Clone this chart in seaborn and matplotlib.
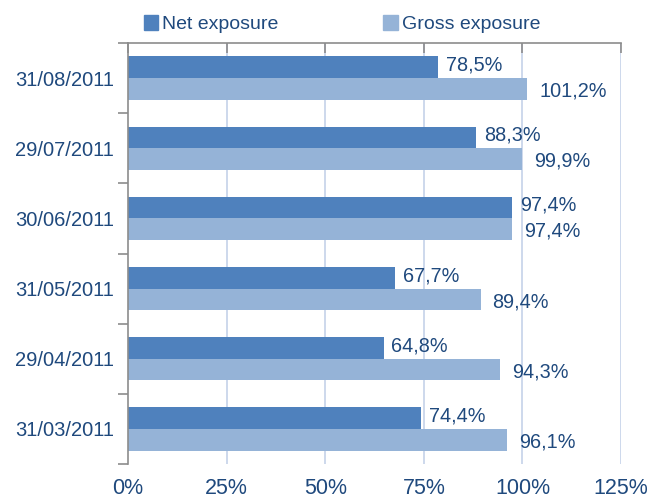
import pandas as pd
import matplotlib.pyplot as plt
import seaborn as sns
from matplotlib.patches import Patch
from matplotlib.ticker import FixedLocator, PercentFormatter

dates = ["31/08/2011", "29/07/2011", "30/06/2011", "31/05/2011", "29/04/2011", "31/03/2011"]
net_exposure = [78.5, 88.3, 97.4, 67.7, 64.8, 74.4]
gross_exposure = [101.2, 99.9, 97.4, 89.4, 94.3, 96.1]
series_names = ["Net exposure", "Gross exposure"]
x_ticks = [0, 25, 50, 75, 100, 125]

NET_COLOR = "#4F81BD"
GROSS_COLOR = "#95B3D7"
TEXT_COLOR = "#1F497D"
AXIS_GRAY = "#8C8C8C"
GRID_COLOR = "#C9D6EA"

df = pd.DataFrame({
    "date": dates * 2,
    "value": net_exposure + gross_exposure,
    "series": [series_names[0]] * len(dates) + [series_names[1]] * len(dates),
})

sns.set_theme(style="white")
plt.rcParams['font.family'] = ['Liberation Sans', 'DejaVu Sans']

fig = plt.figure(figsize=(6.51, 5.01), dpi=100)
ax = fig.add_axes([0.1966, 0.074, 0.7574, 0.84])

sns.barplot(data=df, x="value", y="date", hue="series", order=dates,
            hue_order=series_names, palette=[NET_COLOR, GROSS_COLOR],
            orient="h", width=0.62, ax=ax, legend=False, saturation=1,
            linewidth=0)

ax.set_xlim(0, 125)
ax.set_ylim(len(dates) - 0.5, -0.5)
ax.xaxis.set_major_locator(FixedLocator(x_ticks))
ax.xaxis.set_major_formatter(PercentFormatter(decimals=0))
ax.set_xlabel("")
ax.set_ylabel("")

# grid lines
for v in x_ticks[1:]:
    ax.axvline(v, color=GRID_COLOR, linewidth=1.3, zorder=0)

# spines
for side in ["right", "bottom"]:
    ax.spines[side].set_visible(False)
for side in ["top", "left"]:
    ax.spines[side].set_color(AXIS_GRAY)
    ax.spines[side].set_linewidth(1.2)

# x axis: ticks on top line, labels at bottom
ax.xaxis.set_ticks_position("top")
ax.tick_params(axis="x", which="major", direction="in", length=7, width=1.2,
               color=AXIS_GRAY, labeltop=False, labelbottom=True,
               labelsize=15.5, labelcolor=TEXT_COLOR, pad=10)

# y axis: ticks between categories
ax.yaxis.set_minor_locator(FixedLocator([i - 0.5 for i in range(len(dates) + 1)]))
ax.tick_params(axis="y", which="major", length=0, labelsize=14.5,
               labelcolor=TEXT_COLOR, pad=10)
ax.tick_params(axis="y", which="minor", left=True, direction="out", length=7,
               width=1.2, color=AXIS_GRAY)

# data labels
off = 0.155
for i in range(len(dates)):
    ax.text(net_exposure[i] + 2, i - off - 0.03, f"{net_exposure[i]:.1f}%".replace(".", ","),
            va="center", ha="left", fontsize=14.3, color=TEXT_COLOR)
    ax.text(gross_exposure[i] + 3, i + off + 0.03, f"{gross_exposure[i]:.1f}%".replace(".", ","),
            va="center", ha="left", fontsize=14.3, color=TEXT_COLOR)

handles = [Patch(color=NET_COLOR), Patch(color=GROSS_COLOR)]
leg = ax.legend(handles, series_names, loc="lower left", bbox_to_anchor=(0.012, 1.0),
                ncol=2, frameon=False, fontsize=14, handlelength=0.75, handleheight=0.75,
                handletextpad=0.2, columnspacing=5.4, borderaxespad=0.1)
for t in leg.get_texts():
    t.set_color(TEXT_COLOR)

plt.savefig("out.png", dpi=100)
